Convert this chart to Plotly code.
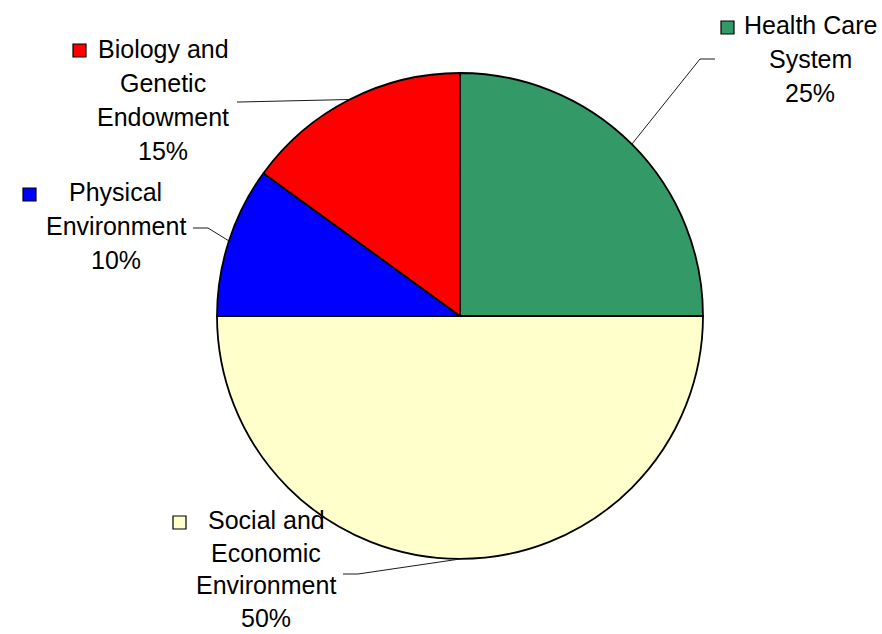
import math
import plotly.graph_objects as go

# Slices, clockwise from 12 o'clock
categories = ["Health Care System", "Social and Economic Environment",
              "Physical Environment", "Biology and Genetic Endowment"]
values = [25, 50, 10, 15]
colors = ["#339966", "#FFFFCC", "#0000FF", "#FF0000"]
label_lines = [["Health Care", "System"],
               ["Social and", "Economic", "Environment"],
               ["Physical", "Environment"],
               ["Biology and", "Genetic", "Endowment"]]

# Page geometry (pixels)
W, H = 882, 634
CX, CY, R = 460, 316, 243
FONT = dict(family="Liberation Sans, Arial, sans-serif", size=25, color="black")

# Label blocks: centre x, first-line y, line step, legend key top-left, leader elbow and end
label_cx = [810, 266, 116, 163]
label_y0 = [25, 520, 192, 49]
label_step = [34, 32.7, 34, 34]
key_pos = [(721, 21), (173, 516), (23, 188), (73, 44)]
KEY = 13
leader_elbow = [(700, 59), (358, 574), (208, 228), (240, 102)]
leader_end = [(715, 59), (343, 574), (193, 228), (237, 102)]


def px(x):
    return x / W


def py(y):
    return 1 - y / H


fig = go.Figure(go.Pie(
    labels=categories,
    values=values,
    sort=False,
    direction="clockwise",
    rotation=0,
    textinfo="none",
    hoverinfo="label+percent",
    marker=dict(colors=colors, line=dict(color="black", width=1.8)),
    domain=dict(x=[px(CX - R), px(CX + R)], y=[py(CY + R), py(CY - R)]),
    showlegend=False,
))

total = sum(values)
annotations = []
shapes = []
cum = 0
for i, v in enumerate(values):
    # point on the rim at the slice's mid-angle
    theta = (cum + v / 2) / total * 2 * math.pi
    cum += v
    ax = CX + R * math.sin(theta)
    ay = CY - R * math.cos(theta)
    ex, ey = leader_elbow[i]
    tx, ty = leader_end[i]
    shapes.append(dict(type="path", xref="paper", yref="paper",
                       path=f"M {px(ax)},{py(ay)} L {px(ex)},{py(ey)} L {px(tx)},{py(ty)}",
                       line=dict(color="#1a1a1a", width=1)))

    lines = label_lines[i] + [f"{v / total * 100:.0f}%"]
    for k, text in enumerate(lines):
        annotations.append(dict(text=text, x=px(label_cx[i]),
                                y=py(label_y0[i] + k * label_step[i]),
                                xref="paper", yref="paper", xanchor="center", yanchor="middle",
                                showarrow=False, font=FONT))

    kx, ky = key_pos[i]
    shapes.append(dict(type="rect", xref="paper", yref="paper",
                       x0=px(kx), x1=px(kx + KEY), y0=py(ky + KEY), y1=py(ky),
                       fillcolor=colors[i], line=dict(color="black", width=1.2)))

fig.update_layout(
    width=W, height=H,
    margin=dict(l=0, r=0, t=0, b=0),
    paper_bgcolor="white",
    plot_bgcolor="white",
    annotations=annotations,
    shapes=shapes,
)

fig.write_html("out.html")
